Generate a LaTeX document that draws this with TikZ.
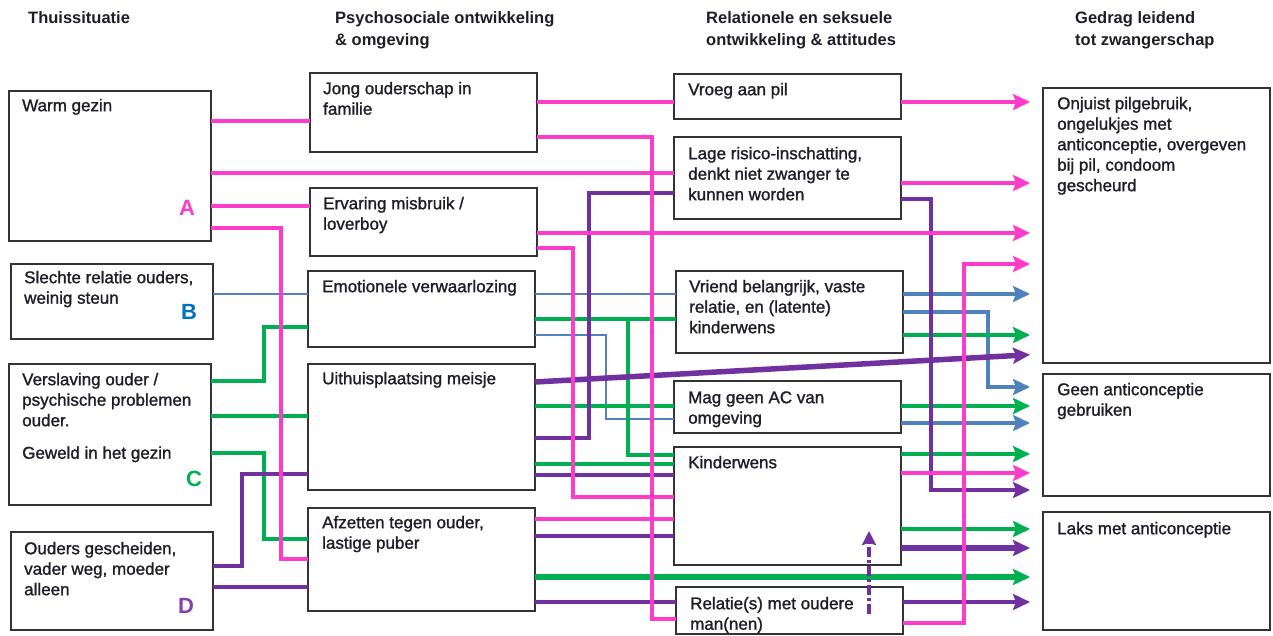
\documentclass[tikz,border=0pt]{standalone}
\usepackage{fontspec}
\setmainfont{Liberation Sans}
\newfontface\medface{Liberation Sans}[FakeBold=1.3]
\usetikzlibrary{arrows.meta}
\definecolor{pk}{HTML}{FF3BC9}
\definecolor{bl}{HTML}{4F81BD}
\definecolor{gr}{HTML}{00B050}
\definecolor{pu}{HTML}{7030A0}
\definecolor{bx}{HTML}{333333}
\definecolor{txtc}{HTML}{1E1E28}
\definecolor{lblB}{HTML}{0070C0}
\definecolor{lblD}{HTML}{8040B0}
\newcommand\mystrut{\rule{0pt}{13pt}}
\begin{document}
\begin{tikzpicture}[x=1pt,y=-1pt,
  box/.style={draw=bx, line width=1.6pt, inner sep=0pt, outer sep=0pt, anchor=north west},
  txt/.style={anchor=north west, inner sep=0pt, align=left, text=txtc, font=\medface\fontsize{17}{20.5}\selectfont},
  hdr/.style={anchor=north west, inner sep=0pt, align=left, text=txtc, font=\bfseries\fontsize{16.5}{22}\selectfont},
  lbl/.style={inner sep=0pt, font=\bfseries\fontsize{22}{24}\selectfont},
  tip/.style={-{Stealth[length=17pt,width=16pt,inset=3pt]}, shorten >=13pt},
  pkl/.style={draw=pk, line width=3.4pt},
  pka/.style={draw=pk, line width=4.5pt, tip},
  bll/.style={draw=bl, line width=2.8pt},
  blthin/.style={draw=bl, line width=1.8pt},
  bla/.style={draw=bl, line width=4pt, tip},
  grl/.style={draw=gr, line width=3.4pt},
  gra/.style={draw=gr, line width=4pt, tip},
  grthick/.style={draw=gr, line width=5.5pt, tip},
  pul/.style={draw=pu, line width=3.4pt},
  pua/.style={draw=pu, line width=4pt, tip},
  puthick/.style={draw=pu, line width=5.5pt, tip},
  pudash/.style={draw=pu, line width=3.5pt, dash pattern=on 10pt off 3pt on 3pt off 3pt, -{Stealth[length=14pt,width=14pt,inset=2pt]}}
]
\useasboundingbox (0,0) rectangle (1273,635);
\fill[white] (0,0) rectangle (1273,635);

% headers
\node[hdr] (h1) at (28,10) {\mystrut Thuissituatie};
\node[hdr] (h2) at (335,10) {\mystrut Psychosociale ontwikkeling\\\& omgeving};
\node[hdr] (h3) at (706,10) {\mystrut Relationele en seksuele\\ontwikkeling \& attitudes};
\node[hdr] (h4) at (1075,10) {\mystrut Gedrag leidend\\tot zwangerschap};

% boxes column 1
\node[box, minimum width=202pt, minimum height=150pt] (warm) at (9,91) {};
\node[box, minimum width=202pt, minimum height=75pt] (slechte) at (11,264) {};
\node[box, minimum width=202pt, minimum height=141pt] (versl) at (9,364) {};
\node[box, minimum width=202pt, minimum height=98pt] (ouders) at (11,532) {};
% column 2
\node[box, minimum width=227pt, minimum height=79pt] (jong) at (310,73) {};
\node[box, minimum width=227pt, minimum height=68pt] (erv) at (310,188) {};
\node[box, minimum width=227pt, minimum height=76pt] (emo) at (308,271) {};
\node[box, minimum width=227pt, minimum height=126pt] (uit) at (308,364) {};
\node[box, minimum width=227pt, minimum height=103pt] (afz) at (308,508) {};
% column 3
\node[box, minimum width=227pt, minimum height=45pt] (vroeg) at (674,74) {};
\node[box, minimum width=227pt, minimum height=82pt] (lage) at (674,137) {};
\node[box, minimum width=227pt, minimum height=82pt] (vriend) at (676,271) {};
\node[box, minimum width=227pt, minimum height=52pt] (mag) at (674,381) {};
\node[box, minimum width=227pt, minimum height=118pt] (kind) at (674,447) {};
\node[box, minimum width=227pt, minimum height=47pt] (rel) at (676,587) {};
% column 4
\node[box, minimum width=227pt, minimum height=275pt] (onj) at (1043,88) {};
\node[box, minimum width=227pt, minimum height=122pt] (geen) at (1043,374) {};
\node[box, minimum width=227pt, minimum height=118pt] (laks) at (1043,512) {};

% texts
\node[txt] (warm-t) at (22,98) {\mystrut Warm gezin};
\node[txt] (slechte-t) at (24,270) {\mystrut Slechte relatie ouders,\\weinig steun};
\node[txt] (versl-t) at (22,372) {\mystrut Verslaving ouder /\\psychische problemen\\ouder.\\[12pt]Geweld in het gezin};
\node[txt] (ouders-t) at (24,541) {\mystrut Ouders gescheiden,\\vader weg, moeder\\alleen};
\node[txt] (jong-t) at (323,81) {\mystrut Jong ouderschap in\\familie};
\node[txt] (erv-t) at (323,196) {\mystrut Ervaring misbruik /\\loverboy};
\node[txt] (emo-t) at (322,279) {\mystrut Emotionele verwaarlozing};
\node[txt] (uit-t) at (322,371) {\mystrut Uithuisplaatsing meisje};
\node[txt] (afz-t) at (322,515) {\mystrut Afzetten tegen ouder,\\lastige puber};
\node[txt] (vroeg-t) at (688,82) {\mystrut Vroeg aan pil};
\node[txt] (lage-t) at (688,146) {\mystrut Lage risico-inschatting,\\denkt niet zwanger te\\kunnen worden};
\node[txt] (vriend-t) at (689,279) {\mystrut Vriend belangrijk, vaste\\relatie, en (latente)\\kinderwens};
\node[txt] (mag-t) at (688,390) {\mystrut Mag geen AC van\\omgeving};
\node[txt] (kind-t) at (688,455) {\mystrut Kinderwens};
\node[txt] (rel-t) at (690,596) {\mystrut Relatie(s) met oudere\\man(nen)};
\node[txt] (onj-t) at (1057,96) {\mystrut Onjuist pilgebruik,\\ongelukjes met\\anticonceptie, overgeven\\bij pil, condoom\\gescheurd};
\node[txt] (geen-t) at (1057,382) {\mystrut Geen anticonceptie\\gebruiken};
\node[txt] (laks-t) at (1057,521) {\mystrut Laks met anticonceptie};

% letters
\node[lbl, text=pk] (lA) at (187,208) {A};
\node[lbl, text=lblB] (lB) at (189,312) {B};
\node[lbl, text=gr] (lC) at (194,479) {C};
\node[lbl, text=lblD] (lD) at (186,606) {D};

% blue
\draw[bll] (slechte.east |- 0,294) -- (emo.west |- 0,294);
\draw[bll] (emo.east |- 0,294) -- (vriend.west |- 0,294);
\draw[bla] (vriend.east |- 0,294) -- (onj.west |- 0,294);
\draw[blthin] (emo.east |- 0,335) -- (606,335) -- (606,419) -- (mag.west |- 0,419);
\draw[bla] (mag.east |- 0,423) -- (geen.west |- 0,423);
\draw[bla] (vriend.east |- 0,312) -- (988,312) -- (988,387) -- (geen.west |- 0,387);

% green
\draw[grl] (versl.east |- 0,381) -- (264,381) -- (264,327) -- (emo.west |- 0,327);
\draw[grl] (versl.east |- 0,416) -- (uit.west |- 0,416);
\draw[grl] (versl.east |- 0,453) -- (264,453) -- (264,539) -- (afz.west |- 0,539);
\draw[grl] (emo.east |- 0,319) -- (vriend.west |- 0,319);
\draw[grl] (emo.east |- 0,319) -- (628,319) -- (628,455) -- (kind.west |- 0,455);
\draw[gra] (vriend.east |- 0,335) -- (onj.west |- 0,335);
\draw[grl] (uit.east |- 0,406) -- (mag.west |- 0,406);
\draw[gra] (mag.east |- 0,406) -- (geen.west |- 0,406);
\draw[grl] (uit.east |- 0,464) -- (kind.west |- 0,464);
\draw[gra] (kind.east |- 0,454) -- (geen.west |- 0,454);
\draw[gra] (kind.east |- 0,529) -- (laks.west |- 0,529);
\draw[grthick] (afz.east |- 0,577) -- (laks.west |- 0,577);

% purple
\draw[pul] (uit.east |- 0,438) -- (589,438) -- (589,193) -- (lage.west |- 0,193);
\draw[pua] (lage.east |- 0,199) -- (931,199) -- (931,490) -- (geen.west |- 0,490);
\draw[puthick] (uit.east |- 0,382) -- (onj.west |- 0,354);
\draw[pul] (ouders.east |- 0,566) -- (242,566) -- (242,474) -- (uit.west |- 0,474);
\draw[pul] (ouders.east |- 0,587) -- (afz.west |- 0,587);
\draw[pul] (uit.east |- 0,475) -- (kind.west |- 0,475);
\draw[pul] (afz.east |- 0,536) -- (kind.west |- 0,536);
\draw[pul] (afz.east |- 0,602) -- (rel.west |- 0,602);
\draw[puthick] (kind.east |- 0,548) -- (laks.west |- 0,548);
\draw[pua] (rel.east |- 0,602) -- (laks.west |- 0,602);
\coordinate (dashS) at (869,614);
\coordinate (dashE) at (869,531);
\draw[pudash] (dashS) -- (dashE);

% pink
\draw[pkl] (warm.east |- 0,121) -- (jong.west |- 0,121);
\draw[pkl] (warm.east |- 0,173) -- (lage.west |- 0,173);
\draw[pkl] (warm.east |- 0,206) -- (erv.west |- 0,206);
\draw[pkl] (warm.east |- 0,228) -- (281,228) -- (281,559) -- (afz.west |- 0,559);
\draw[pkl] (jong.east |- 0,102) -- (vroeg.west |- 0,102);
\draw[pka] (vroeg.east |- 0,102) -- (onj.west |- 0,102);
\draw[pkl] (jong.east |- 0,137) -- (652,137) -- (652,619) -- (rel.west |- 0,619);
\draw[pka] (erv.east |- 0,233) -- (onj.west |- 0,233);
\draw[pkl] (erv.east |- 0,248) -- (573,248) -- (573,497) -- (kind.west |- 0,497);
\draw[pka] (lage.east |- 0,183) -- (onj.west |- 0,183);
\draw[pka] (kind.east |- 0,473) -- (geen.west |- 0,473);
\draw[pkl] (afz.east |- 0,519) -- (kind.west |- 0,519);
\draw[pka] (rel.east |- 0,623) -- (964,623) -- (964,264) -- (onj.west |- 0,264);
\end{tikzpicture}
\end{document}
